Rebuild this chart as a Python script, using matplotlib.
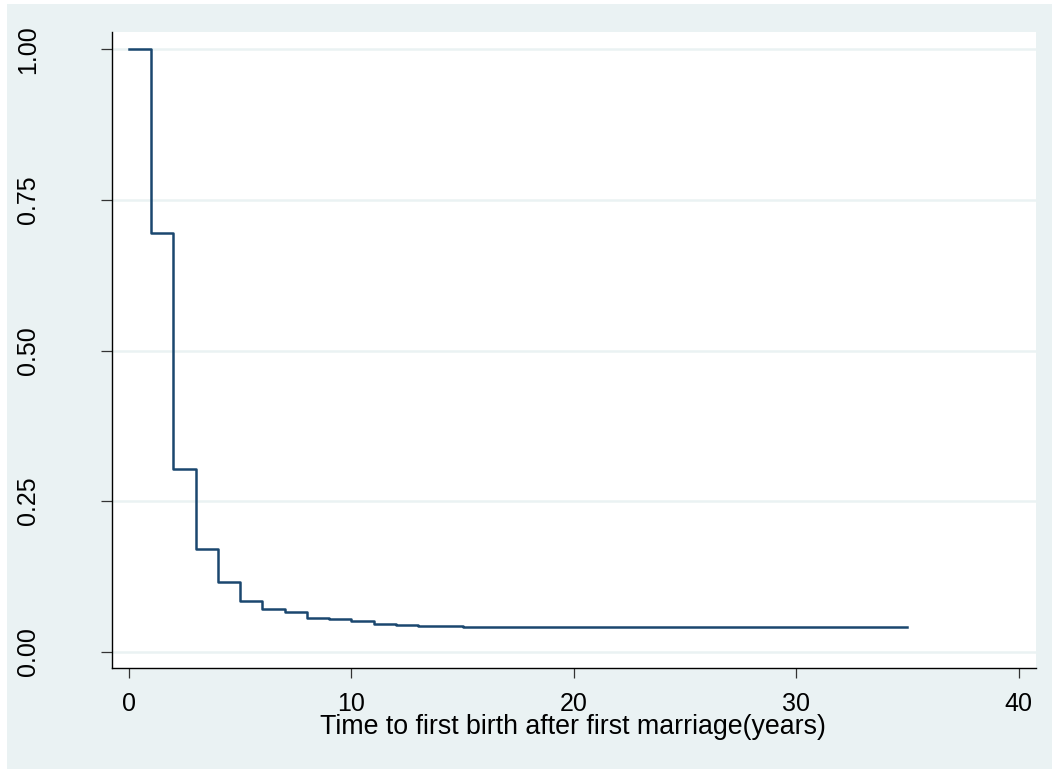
import matplotlib
matplotlib.use("Agg")
import matplotlib.pyplot as plt
from matplotlib import font_manager
from matplotlib.patches import Rectangle

# Kaplan-Meier style survival estimate
time_years = [0, 1, 2, 3, 4, 5, 6, 7, 8, 9, 10, 11, 12, 13, 15, 35]
survival = [1.0, 0.6946, 0.3033, 0.1705, 0.1152, 0.0842, 0.0704, 0.0654,
            0.0564, 0.0543, 0.0505, 0.0465, 0.0438, 0.0422, 0.0405, 0.0405]

x_ticks = [0, 10, 20, 30, 40]
y_ticks = [0, 0.25, 0.5, 0.75, 1.0]
y_labels = ["0.00", "0.25", "0.50", "0.75", "1.00"]
x_title = "Time to first birth after first marriage(years)"

plt.rcParams['font.family'] = ['Liberation Sans', 'DejaVu Sans']

# the axis title in the reference is a condensed face
installed = {f.name for f in font_manager.fontManager.ttflist}
if "Liberation Sans Narrow" in installed:
    title_family, title_size = ["Liberation Sans Narrow", "DejaVu Sans"], 23.5
else:
    title_family, title_size = ["Liberation Sans", "DejaVu Sans"], 19.3

W, H = 1052, 769
fig = plt.figure(figsize=(W / 100, H / 100), dpi=100, facecolor="white")
bg = "#EAF2F3"
fig.add_artist(Rectangle((7 / W, 0), 1 - 7 / W, 1 - 4 / H,
                         transform=fig.transFigure, facecolor=bg,
                         edgecolor="none", zorder=-10))

ax = fig.add_axes([112 / W, 1 - 668 / H, (1036 - 112) / W, (668 - 32) / H])
ax.set_facecolor("white")

for yv in y_ticks:
    ax.axhline(yv, color=bg, lw=1.8, zorder=1)

ax.step(time_years, survival, where="post", color="#1A476F", lw=1.8, zorder=3)

ax.set_xlim(-0.76, 40.78)
ax.set_ylim(-0.027, 1.0287)
ax.set_xticks(x_ticks)
ax.set_yticks(y_ticks)
ax.set_yticklabels(y_labels, rotation=90, va="center")

for s in ["top", "right"]:
    ax.spines[s].set_visible(False)
for s in ["left", "bottom"]:
    ax.spines[s].set_linewidth(1.0)
    ax.spines[s].set_color("black")

ax.tick_params(axis="x", length=7.5, width=0.9, color="#333333",
               labelsize=18, pad=10)
ax.tick_params(axis="y", length=8, width=0.9, color="#333333",
               labelsize=18, pad=44)

ax.set_xlabel(x_title, fontsize=title_size, family=title_family)
ax.xaxis.label.set_va("baseline")
ax.xaxis.set_label_coords(0.4989, (668 - 734) / 636)

fig.savefig("out.png", dpi=100, facecolor=fig.get_facecolor())
